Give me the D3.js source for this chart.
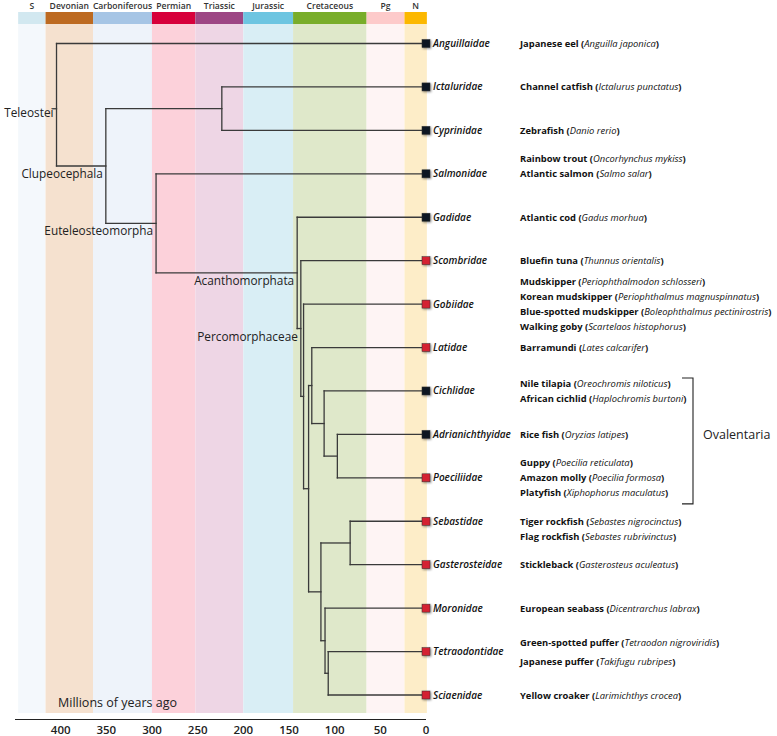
<!DOCTYPE html>
<html><head><meta charset="utf-8">
<script src="https://cdn.jsdelivr.net/npm/d3@7"></script>
<style>body{margin:0;background:#fff;} svg{display:block}</style>
</head><body><svg id="chart" width="777" height="736"></svg>
<script>
// ---------- DATA ----------
const periods = ["S","Devonian","Carboniferous","Permian","Triassic","Jurassic","Cretaceous","Pg","N"];
const periodStart = [446, 416, 364, 299.5, 252, 199.5, 145, 64.5, 23];
const periodEnd   = [416, 364, 299.5, 252, 199.5, 145, 64.5, 23, -1.5];
const stripColors = ["#d2e8f0","#bd6a21","#a6c5e5","#d7003b","#9d4684","#6dc5e1","#79ad2a","#fdcaca","#fcb800"];
const bandColors  = ["#f4f8fc","#f5e1cf","#eef3fa","#fcd1da","#eed6e5","#d9eef5","#dfe8ca","#fef4f4","#fdedc8"];

const tickValues = [400,350,300,250,200,150,100,50,0];

const families = ["Anguillaidae","Ictaluridae","Cyprinidae","Salmonidae","Gadidae","Scombridae","Gobiidae","Latidae",
  "Cichlidae","Adrianichthyidae","Poeciliidae","Sebastidae","Gasterosteidae","Moronidae","Tetraodontidae","Sciaenidae"];
const markerGroup = ["black","black","black","black","black","red","red","red","black","black","red","red","red","red","red","red"];

const speciesCommon = [
  ["Japanese eel"],["Channel catfish"],["Zebrafish"],["Rainbow trout","Atlantic salmon"],["Atlantic cod"],["Bluefin tuna"],
  ["Mudskipper","Korean mudskipper","Blue-spotted mudskipper","Walking goby"],["Barramundi"],
  ["Nile tilapia","African cichlid"],["Rice fish"],["Guppy","Amazon molly","Platyfish"],["Tiger rockfish","Flag rockfish"],
  ["Stickleback"],["European seabass"],["Green-spotted puffer","Japanese puffer"],["Yellow croaker"]];
const speciesLatin = [
  ["Anguilla japonica"],["Ictalurus punctatus"],["Danio rerio"],["Oncorhynchus mykiss","Salmo salar"],["Gadus morhua"],["Thunnus orientalis"],
  ["Periophthalmodon schlosseri","Periophthalmus magnuspinnatus","Boleophthalmus pectinirostris","Scartelaos histophorus"],["Lates calcarifer"],
  ["Oreochromis niloticus","Haplochromis burtoni"],["Oryzias latipes"],["Poecilia reticulata","Poecilia formosa","Xiphophorus maculatus"],
  ["Sebastes nigrocinctus","Sebastes rubrivinctus"],["Gasterosteus aculeatus"],["Dicentrarchus labrax"],
  ["Tetraodon nigroviridis","Takifugu rubripes"],["Larimichthys crocea"]];

const nodeIds   = ["root","Clupeocephala","Otophysi","Euteleosteomorpha","Acanthomorphata","Percomorphaceae","n1","n2","n3",
  "Ovalentaria","AdrPoe","lower","SebGas","MorPlus","TetSci"];
const nodeAges  = [404, 350, 223, 295, 140.5, 136.5, 133.5, 128, 124.5, 111, 96.5, 114.5, 82.5, 110, 106.5];
const nodeChildren = [
  ["Anguillaidae","Clupeocephala"],["Otophysi","Euteleosteomorpha"],["Ictaluridae","Cyprinidae"],["Salmonidae","Acanthomorphata"],
  ["Gadidae","Percomorphaceae"],["Scombridae","n1"],["Gobiidae","n2"],["n3","lower"],["Latidae","Ovalentaria"],
  ["Cichlidae","AdrPoe"],["Adrianichthyidae","Poeciliidae"],["SebGas","MorPlus"],["Sebastidae","Gasterosteidae"],
  ["Moronidae","TetSci"],["Tetraodontidae","Sciaenidae"]];
const cladeLabelNodes = ["root","Clupeocephala","Euteleosteomorpha","Acanthomorphata","Percomorphaceae"];
const cladeLabelTexts = ["Teleostei","Clupeocephala","Euteleosteomorpha","Acanthomorphata","Percomorphaceae"];

// ---------- LAYOUT ----------
const svg = d3.select("#chart");
const x = d3.scaleLinear().domain([450, 0]).range([14.5, 425.5]);
const y = d3.scalePoint().domain(families).range([43.5, 695]);
const bandTop = 24, bandBottom = 713, stripTop = 12;
const markerFill = {black:"#0b1620", red:"#d42030"};
const lineAlign = {Salmonidae:"end", Sebastidae:"start"};
const lineGap = {Tetraodontidae:19};

// bands
svg.selectAll("rect.band").data(periods).join("rect")
  .attr("x", (d,i)=>x(periodStart[i])).attr("width",(d,i)=>x(periodEnd[i])-x(periodStart[i]))
  .attr("y", bandTop).attr("height", bandBottom-bandTop).attr("fill",(d,i)=>bandColors[i]);
svg.selectAll("rect.strip").data(periods).join("rect")
  .attr("x", (d,i)=>x(periodStart[i])).attr("width",(d,i)=>x(periodEnd[i])-x(periodStart[i]))
  .attr("y", stripTop).attr("height", bandTop-stripTop).attr("fill",(d,i)=>stripColors[i]);
svg.selectAll("text.period").data(periods).join("text")
  .attr("x",(d,i)=>(x(periodStart[i])+x(periodEnd[i]))/2).attr("y",9)
  .attr("text-anchor","middle").attr("font-family","Open Sans").attr("font-weight",600)
  .attr("font-size",8.6).attr("fill","#333").text(d=>d);

// axis
const axis = d3.axisBottom(x).tickValues(tickValues).tickSize(0).tickPadding(7).tickFormat(d3.format("d"));
const ag = svg.append("g").attr("transform","translate(0,719)").call(axis);
ag.select(".domain").attr("stroke","#222").attr("stroke-width",1.2);
ag.selectAll("text").attr("font-family","Open Sans").attr("font-weight",600).attr("font-size",11.5).attr("fill","#222");

// tree geometry
const pos = {};
families.forEach(f=>{pos[f]={x:x(0), y:y(f)};});
function place(id){
  if(pos[id]) return pos[id];
  const i = nodeIds.indexOf(id);
  const ch = nodeChildren[i].map(place);
  pos[id] = {x:x(nodeAges[i]), y:(ch[0].y+ch[ch.length-1].y)/2};
  return pos[id];
}
place("root");
const segs = [];
nodeIds.forEach((id,i)=>{
  const p = pos[id];
  const ch = nodeChildren[i].map(c=>pos[c]);
  segs.push([p.x, ch[0].y, p.x, ch[ch.length-1].y]);
  ch.forEach(c=>segs.push([p.x, c.y, c.x, c.y]));
});
segs.push([pos.root.x-3.5, pos.root.y+4, pos.root.x, pos.root.y+4]);
svg.append("g").selectAll("line").data(segs).join("line")
  .attr("x1",d=>d[0]).attr("y1",d=>d[1]).attr("x2",d=>d[2]).attr("y2",d=>d[3])
  .attr("stroke","#3a3a3a").attr("stroke-width",1.3).attr("stroke-linecap","square");

// clade labels
svg.append("g").selectAll("text").data(cladeLabelNodes).join("text")
  .attr("x",d=>pos[d].x-3).attr("y",d=>pos[d].y+12)
  .attr("text-anchor","end").attr("font-family","Open Sans").attr("font-size",11.8).attr("fill","#222")
  .text((d,i)=>cladeLabelTexts[i]);

// markers
const defs = svg.append("defs");
const f = defs.append("filter").attr("id","sh").attr("x","-50%").attr("y","-50%").attr("width","200%").attr("height","200%");
f.append("feDropShadow").attr("dx",1).attr("dy",1).attr("stdDeviation",0.8).attr("flood-color","#000").attr("flood-opacity",0.45);
svg.append("g").selectAll("rect").data(families).join("rect")
  .attr("x",d=>x(0)-3.5).attr("y",d=>y(d)-4).attr("width",8).attr("height",8)
  .attr("fill",(d,i)=>markerFill[markerGroup[i]]).attr("stroke","#333").attr("stroke-width",0.5)
  .attr("filter","url(#sh)");

// family labels
svg.append("g").selectAll("text").data(families).join("text")
  .attr("x",433).attr("y",d=>y(d)+3.5)
  .attr("font-family","Open Sans").attr("font-style","italic").attr("font-weight",600)
  .attr("font-size",10).attr("fill","#111").text(d=>d);

// species labels
const sg = svg.append("g").attr("font-family","Open Sans").attr("font-size",9.4).attr("fill","#111");
families.forEach((fam,i)=>{
  const n = speciesCommon[i].length;
  const gap = lineGap[fam] || 15;
  const al = lineAlign[fam] || "center";
  const y0 = al==="end" ? y(fam)-(n-1)*gap : al==="start" ? y(fam) : y(fam)-(n-1)*gap/2;
  speciesCommon[i].forEach((c,j)=>{
    const t = sg.append("text").attr("x",520).attr("y",y0+j*gap+3.5);
    t.append("tspan").attr("font-weight",700).text(c+" (");
    t.append("tspan").attr("font-style","italic").text(speciesLatin[i][j]);
    t.append("tspan").attr("font-weight",700).text(")");
  });
});

// Ovalentaria bracket
const bTop = y("Cichlidae")-13, bBot = y("Poeciliidae")+26;
svg.append("path").attr("d",`M682,${bTop}H693V${bBot}H682`).attr("fill","none").attr("stroke","#222").attr("stroke-width",1.1);
svg.append("text").attr("x",703).attr("y",y("Adrianichthyidae")+4.5).attr("font-family","Open Sans")
  .attr("font-size",12.5).attr("fill","#222").text("Ovalentaria");

// axis title
svg.append("text").attr("x",58).attr("y",706.5).attr("font-family","Open Sans").attr("font-size",12.5)
  .attr("fill","#222").text("Millions of years ago");
</script></body></html>
